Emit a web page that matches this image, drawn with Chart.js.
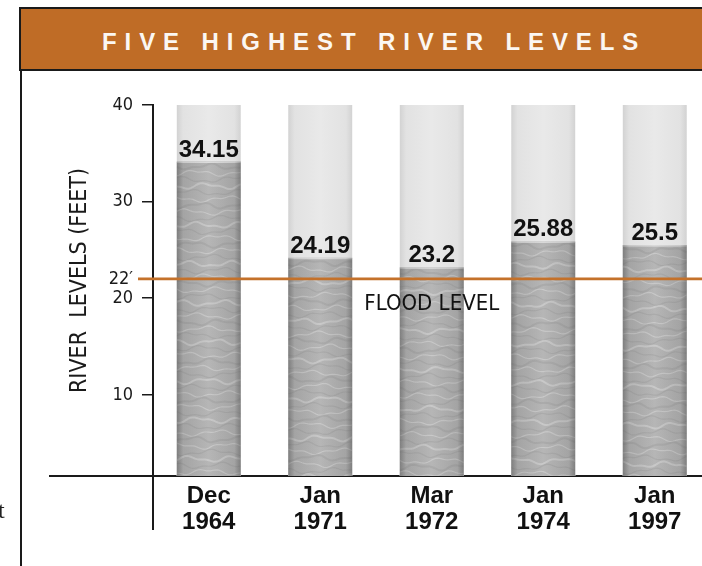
<!DOCTYPE html>
<html>
<head>
<meta charset="utf-8">
<script src="https://cdn.jsdelivr.net/npm/chart.js@4.4.1/dist/chart.umd.min.js"></script>
<style>
  html, body { margin:0; padding:0; background:#fff; overflow:hidden; width:702px; height:566px; }
  #wrap { position:relative; width:702px; height:566px; overflow:hidden; }
  #c { position:absolute; left:0; top:0; }
  #banner { position:absolute; left:19px; top:7px; width:700px; height:60px; background:#bf6c26;
            border-top:2px solid #1a1a1a; border-bottom:2px solid #1a1a1a; border-left:2px solid #1a1a1a; }
  #title { position:absolute; left:81px; top:21px; white-space:nowrap; color:#fbf7f2;
           font-family:"Liberation Sans Narrow","Liberation Sans",sans-serif; font-weight:bold;
           font-size:24px; line-height:24px; letter-spacing:7.9px; }
  #leftline { position:absolute; left:20px; top:69px; width:2px; height:497px; background:#1a1a1a; }
  #stray { position:absolute; left:-2px; top:497px; font-family:"Liberation Serif",serif; font-size:24px; color:#222; }
</style>
</head>
<body>
<div id="wrap">
  <canvas id="c" width="720" height="566" style="width:720px;height:566px"></canvas>
  <div id="banner"><div id="title">FIVE HIGHEST RIVER LEVELS</div></div>
  <div id="leftline"></div>
  <div id="stray">t</div>
</div>
<script>
// ---- data ----
const categories = [['Dec','1964'], ['Jan','1971'], ['Mar','1972'], ['Jan','1974'], ['Jan','1997']];
const riverLevels = [34.15, 24.19, 23.2, 25.88, 25.5];
const valueLabels = ['34.15', '24.19', '23.2', '25.88', '25.5'];
const tubeTop = [40, 40, 40, 40, 40];
const yTicks = [10, 20, 22, 30, 40];
const yTickLabels = ['10', '20', '22\u2032', '30', '40'];
const floodLevel = 22;
const floodLabel = 'FLOOD LEVEL';
const floodLabelCategory = 2;
const yTitle = 'RIVER  LEVELS (FEET)';

const BOLD = '"Liberation Sans Narrow","Liberation Sans",sans-serif';
const COND = '"DejaVu Sans Condensed","DejaVu Sans",sans-serif';

const extras = {
  id: 'extras',
  afterDatasetsDraw(chart) {
    const ctx = chart.ctx;
    const ca = chart.chartArea;
    [1, 0].forEach(di => {
      const meta = chart.getDatasetMeta(di);
      meta.data.forEach((el, i) => {
        const p = el.getProps(['x', 'y', 'base', 'width'], true);
        const x0 = p.x - p.width / 2, x1 = p.x + p.width / 2;
        const top = Math.max(ca.top, Math.min(p.y, p.base));
        const bot = Math.min(ca.bottom, Math.max(p.y, p.base));
        ctx.save();
        ctx.beginPath();
        ctx.rect(x0, top, x1 - x0, bot - top);
        ctx.clip();
        if (di === 0) {
          for (let k = 0, yy = top + 5; yy < bot + 8; k++, yy += 6.5) {
            ctx.beginPath();
            for (let xx = x0; xx <= x1; xx += 2) {
              const w = yy + 2.2 * Math.sin((xx - x0) / (7 + (k % 3)) + k * 2.3 + i * 1.1)
                           + 1.1 * Math.sin((xx - x0) / 3.3 + k * 1.3);
              if (xx === x0) ctx.moveTo(xx, w); else ctx.lineTo(xx, w);
            }
            ctx.strokeStyle = (k % 2) ? 'rgba(232,232,232,0.38)' : 'rgba(120,120,120,0.16)';
            ctx.lineWidth = (k % 3 === 0) ? 2 : 1.2;
            ctx.stroke();
          }
          ctx.fillStyle = 'rgba(238,238,238,0.7)';
          ctx.fillRect(x0, top, x1 - x0, 1.5);
        }
        const g = ctx.createLinearGradient(x0, 0, x1, 0);
        const a = di === 0 ? 0.42 : 0.14;
        g.addColorStop(0, 'rgba(70,70,70,' + a + ')');
        g.addColorStop(0.1, 'rgba(70,70,70,' + (a * 0.3) + ')');
        g.addColorStop(0.5, 'rgba(70,70,70,0)');
        g.addColorStop(0.9, 'rgba(70,70,70,' + (a * 0.3) + ')');
        g.addColorStop(1, 'rgba(70,70,70,' + a + ')');
        ctx.fillStyle = g;
        ctx.fillRect(x0, top, x1 - x0, bot - top);
        ctx.restore();
      });
    });
    // value labels
    const wm = chart.getDatasetMeta(0);
    ctx.save();
    ctx.font = 'bold 24px ' + BOLD;
    ctx.fillStyle = '#111';
    ctx.textAlign = 'center';
    ctx.textBaseline = 'alphabetic';
    wm.data.forEach((el, i) => {
      const p = el.getProps(['x', 'y'], true);
      ctx.fillText(valueLabels[i], p.x, p.y - 5);
    });
    ctx.restore();
    // flood line
    const ys = chart.scales.y, xs = chart.scales.x;
    const fy = ys.getPixelForValue(floodLevel);
    ctx.save();
    ctx.strokeStyle = '#c4712a';
    ctx.lineWidth = 2.6;
    ctx.beginPath();
    ctx.moveTo(ca.left - 15, fy);
    ctx.lineTo(chart.width, fy);
    ctx.stroke();
    ctx.font = '22px ' + COND;
    ctx.fillStyle = '#111';
    ctx.textAlign = 'center';
    ctx.textBaseline = 'alphabetic';
    ctx.fillText(floodLabel, xs.getPixelForValue(floodLabelCategory), fy + 31);
    ctx.restore();
  },
  afterDraw(chart) {
    const ctx = chart.ctx;
    const ca = chart.chartArea;
    ctx.save();
    ctx.strokeStyle = '#1a1a1a';
    ctx.lineWidth = 2;
    ctx.beginPath();
    ctx.moveTo(ca.left - 104, ca.bottom);
    ctx.lineTo(ca.left, ca.bottom);
    ctx.moveTo(ca.left, ca.bottom);
    ctx.lineTo(ca.left, ca.bottom + 54);
    ctx.stroke();
    ctx.translate(80, (ca.top + ca.bottom) / 2 - 10);
    ctx.rotate(-Math.PI / 2);
    ctx.font = '23px ' + COND;
    ctx.fillStyle = '#1a1a1a';
    ctx.textAlign = 'center';
    ctx.textBaseline = 'middle';
    ctx.fillText(yTitle, 0, 0);
    ctx.restore();
  }
};

new Chart(document.getElementById('c'), {
  type: 'bar',
  data: {
    labels: categories,
    datasets: [
      { label: 'River level', data: riverLevels, backgroundColor: '#b6b6b6', order: 0, clip: 0,
        barPercentage: 1, categoryPercentage: 0.575 },
      { label: 'Tube', data: tubeTop, backgroundColor: '#e9e9e9', order: 1, clip: 0,
        barPercentage: 1, categoryPercentage: 0.575 }
    ]
  },
  options: {
    responsive: false,
    animation: false,
    devicePixelRatio: 1,
    layout: { padding: { top: 105, left: 0, right: 9.5, bottom: 0 } },
    plugins: { legend: { display: false }, tooltip: { enabled: false }, title: { display: false } },
    datasets: { bar: { grouped: false } },
    scales: {
      x: {
        z: 1,
        grid: { display: false, drawTicks: false },
        border: { display: true, color: '#1a1a1a', width: 2 },
        ticks: { color: '#111', padding: 7, maxRotation: 0, autoSkip: false,
                 font: { family: BOLD, weight: 'bold', size: 24, lineHeight: 1.09 } },
        afterFit(s) { s.height = 90; }
      },
      y: {
        min: 1.6, max: 40,
        afterBuildTicks(s) { s.ticks = yTicks.map(v => ({ value: v })); },
        grid: { drawOnChartArea: false, drawTicks: true, tickLength: 11, color: '#1a1a1a', lineWidth: 1.5 },
        border: { display: true, color: '#1a1a1a', width: 2 },
        ticks: { color: '#1a1a1a', padding: 9, autoSkip: false,
                 font: { family: COND, size: 18 },
                 callback(v) { const k = yTicks.indexOf(v); return k >= 0 ? yTickLabels[k] : ''; } },
        afterFit(s) { s.width = 153; }
      }
    }
  },
  plugins: [extras]
});
</script>
</body>
</html>
